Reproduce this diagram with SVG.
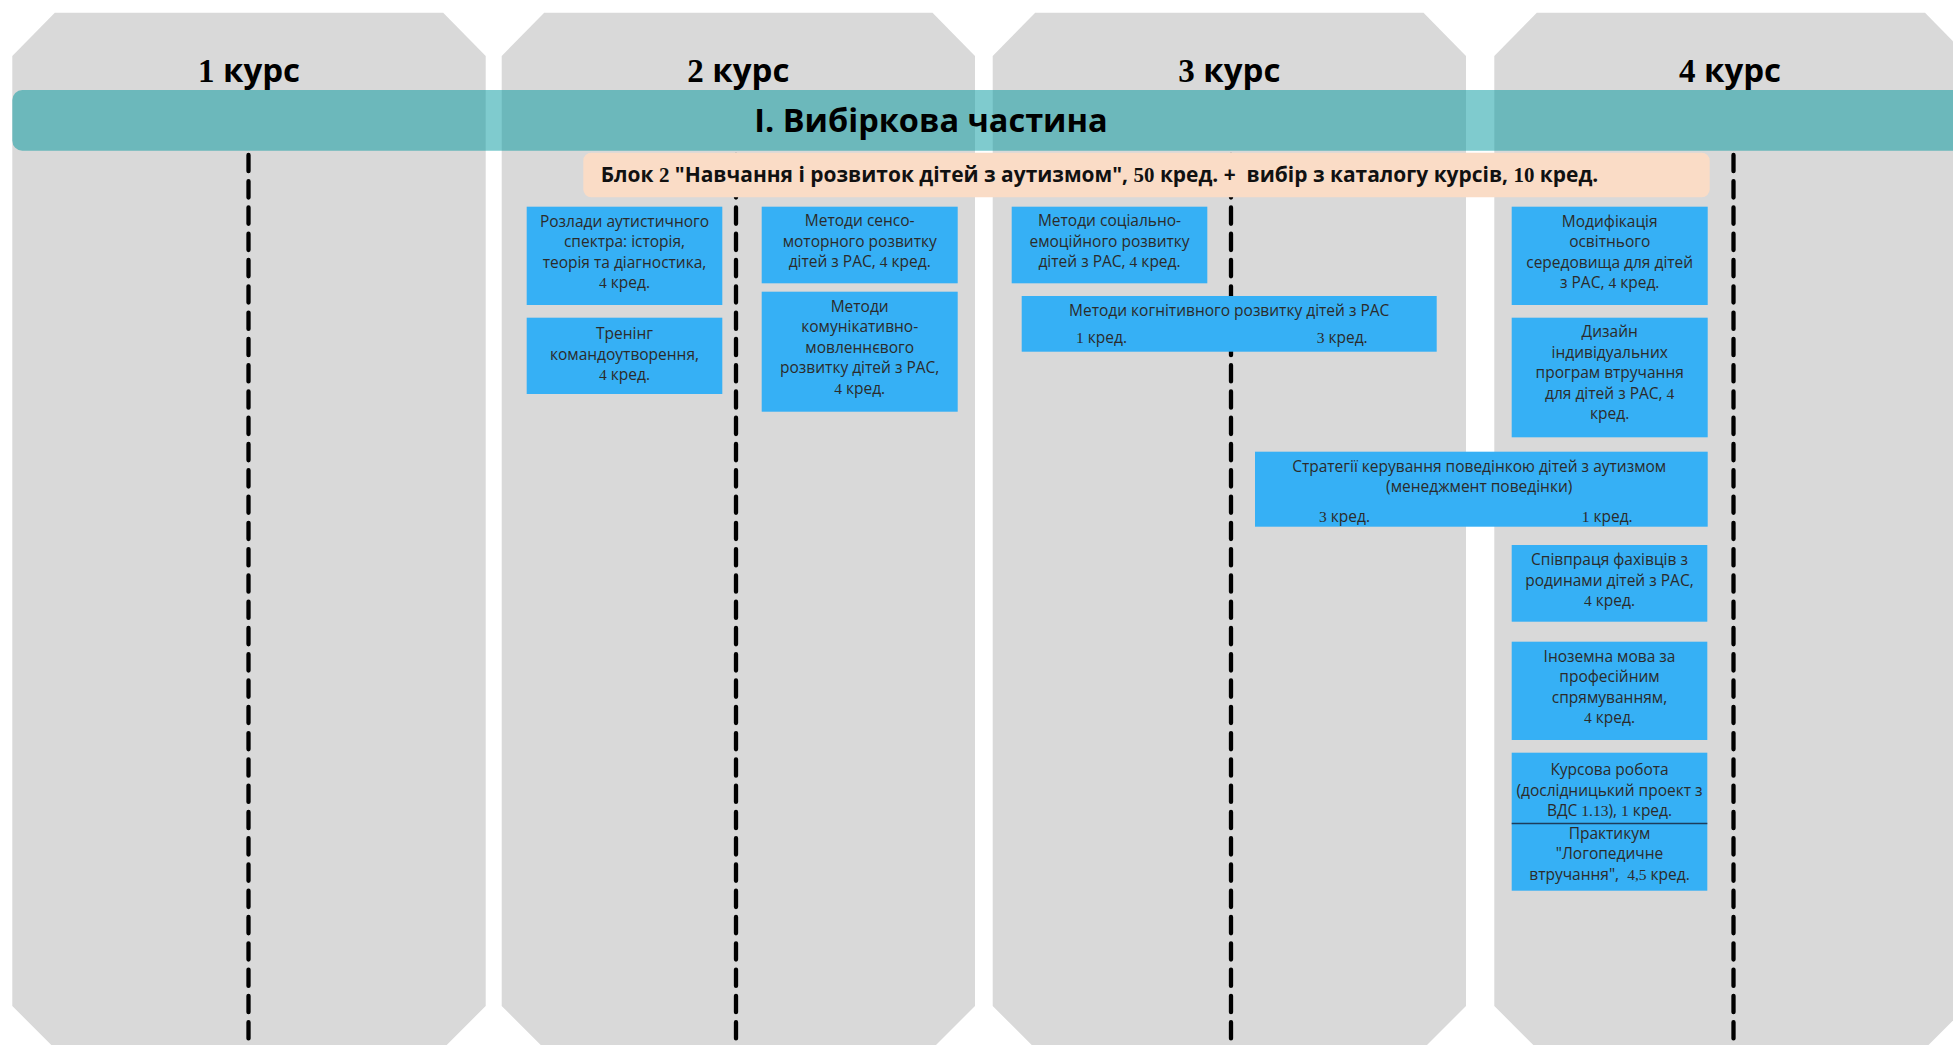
<svg xmlns="http://www.w3.org/2000/svg" width="1953" height="1045" viewBox="0 0 1953 1045">
<style>
.panel{fill:#d9d9d9}
.band{fill:#00979d;fill-opacity:.5}
.peach{fill:#fadcc6}
.box{fill:#36b0f5}
.dash{stroke:#000;stroke-width:4.3;stroke-linecap:round;stroke-dasharray:16.3 9.98;fill:none}
.h{font-family:"Open Sans","Noto Sans",sans-serif;font-weight:700;font-size:33px;fill:#000;text-anchor:middle}
.b{font-family:"Open Sans","Noto Sans",sans-serif;font-weight:700;font-size:20.5px;fill:#111;white-space:pre}
.t{font-family:"Open Sans","Noto Sans",sans-serif;font-size:15.5px;fill:#2b2b2b;text-anchor:middle;white-space:pre}
.s{text-anchor:start}
.d{font-family:"Liberation Serif",serif}
</style>
<g id="panels">
<g id="year1"><path class="panel" d="M12.3,56 L54.8,12.7 L443.2,12.7 L485.7,56 L485.7,1006 L446.7,1045 L51.3,1045 L12.3,1006 Z"/><text class="h" x="249" y="82"><tspan class="d">1</tspan> курс</text></g>
<g id="year2"><path class="panel" d="M501.7,56 L544.2,12.7 L932.5,12.7 L975,56 L975,1006 L936,1045 L540.7,1045 L501.7,1006 Z"/><text class="h" x="738.3" y="82"><tspan class="d">2</tspan> курс</text></g>
<g id="year3"><path class="panel" d="M992.7,56 L1035.2,12.7 L1423.5,12.7 L1466,56 L1466,1006 L1427,1045 L1031.7,1045 L992.7,1006 Z"/><text class="h" x="1229.3" y="82"><tspan class="d">3</tspan> курс</text></g>
<g id="year4"><path class="panel" d="M1494.3,56 L1536.8,12.7 L1925,12.7 L1967.5,56 L1967.5,1006 L1928.5,1045 L1533.3,1045 L1494.3,1006 Z"/><text class="h" x="1730" y="82"><tspan class="d">4</tspan> курс</text></g>
</g>
<g id="band">
<rect class="band" x="12.3" y="90" width="1970" height="60.7" rx="10"/>
<text class="h" x="931" y="132" style="font-size:32.5px">I. Вибіркова частина</text>
</g>
<g id="connectors">
<path class="dash" d="M248.5,154.9 V1050"/>
<path class="dash" d="M736,154.9 V1050"/>
<path class="dash" d="M1231,154.9 V1050"/>
<path class="dash" d="M1733.5,154.9 V1050"/>
</g>
<g id="block2">
<rect class="peach" x="583.3" y="152.7" width="1126.4" height="44.6" rx="8"/>
<text class="b" x="600.7" y="182" textLength="997.6" lengthAdjust="spacingAndGlyphs">Блок <tspan class="d">2</tspan> "Навчання і розвиток дітей з аутизмом", <tspan class="d">50</tspan> кред. +  вибір з каталогу курсів, <tspan class="d">10</tspan> кред.</text>
</g>
<g id="n1"><rect class="box" x="526.7" y="206.7" width="195.6" height="98.3"/>
<text class="t" x="624.5" y="226.7">Розлади аутистичного</text><text class="t" x="624.5" y="247.2">спектра: історія,</text><text class="t" x="624.5" y="267.7">теорія та діагностика,</text><text class="t" x="624.5" y="288.2"><tspan class="d">4</tspan> кред.</text></g>
<g id="n2"><rect class="box" x="526.7" y="317.7" width="195.6" height="76.3"/>
<text class="t" x="624.5" y="339">Тренінг</text><text class="t" x="624.5" y="359.5">командоутворення,</text><text class="t" x="624.5" y="380"><tspan class="d">4</tspan> кред.</text></g>
<g id="n3"><rect class="box" x="761.7" y="206.7" width="196" height="76.6"/>
<text class="t" x="859.7" y="226">Методи сенсо-</text><text class="t" x="859.7" y="246.5">моторного розвитку</text><text class="t" x="859.7" y="267">дітей з РАС, <tspan class="d">4</tspan> кред.</text></g>
<g id="n4"><rect class="box" x="761.7" y="291.7" width="196" height="120"/>
<text class="t" x="859.7" y="311.5">Методи</text><text class="t" x="859.7" y="332">комунікативно-</text><text class="t" x="859.7" y="352.5">мовленнєвого</text><text class="t" x="859.7" y="373">розвитку дітей з РАС,</text><text class="t" x="859.7" y="393.5"><tspan class="d">4</tspan> кред.</text></g>
<g id="n5"><rect class="box" x="1011.7" y="206.7" width="195.6" height="76.6"/>
<text class="t" x="1109.5" y="226">Методи соціально-</text><text class="t" x="1109.5" y="246.5">емоційного розвитку</text><text class="t" x="1109.5" y="267">дітей з РАС, <tspan class="d">4</tspan> кред.</text></g>
<g id="n6"><rect class="box" x="1021.7" y="296" width="415" height="55.7"/>
<text class="t" x="1229.2" y="316">Методи когнітивного розвитку дітей з РАС</text>
<text class="t s" x="1076" y="343"><tspan class="d">1</tspan> кред.</text><text class="t s" x="1316.7" y="343"><tspan class="d">3</tspan> кред.</text></g>
<g id="n7"><rect class="box" x="1511.7" y="206.7" width="196" height="98.3"/>
<text class="t" x="1609.7" y="226.7">Модифікація</text><text class="t" x="1609.7" y="247.2">освітнього</text><text class="t" x="1609.7" y="267.7">середовища для дітей</text><text class="t" x="1609.7" y="288.2">з РАС, <tspan class="d">4</tspan> кред.</text></g>
<g id="n8"><rect class="box" x="1511.7" y="317.7" width="196" height="119.6"/>
<text class="t" x="1609.7" y="337">Дизайн</text><text class="t" x="1609.7" y="357.5">індивідуальних</text><text class="t" x="1609.7" y="378">програм втручання</text><text class="t" x="1609.7" y="398.5">для дітей з РАС, <tspan class="d">4</tspan></text><text class="t" x="1609.7" y="419">кред.</text></g>
<g id="n9"><rect class="box" x="1255" y="451.7" width="452.7" height="75"/>
<text class="t" x="1479.2" y="471.7">Стратегії керування поведінкою дітей з аутизмом</text><text class="t" x="1479.2" y="492">(менеджмент поведінки)</text>
<text class="t s" x="1319" y="522"><tspan class="d">3</tspan> кред.</text><text class="t s" x="1581.7" y="522"><tspan class="d">1</tspan> кред.</text></g>
<g id="n10"><rect class="box" x="1511.7" y="545" width="195.6" height="76.7"/>
<text class="t" x="1609.5" y="565">Співпраця фахівців з</text><text class="t" x="1609.5" y="585.5">родинами дітей з РАС,</text><text class="t" x="1609.5" y="606"><tspan class="d">4</tspan> кред.</text></g>
<g id="n11"><rect class="box" x="1511.7" y="641.7" width="195.6" height="98.3"/>
<text class="t" x="1609.5" y="661.7">Іноземна мова за</text><text class="t" x="1609.5" y="682.2">професійним</text><text class="t" x="1609.5" y="702.7">спрямуванням,</text><text class="t" x="1609.5" y="723.2"><tspan class="d">4</tspan> кред.</text></g>
<g id="n12"><rect class="box" x="1511.7" y="752.7" width="195.6" height="71"/>
<text class="t" x="1609.5" y="775">Курсова робота</text><text class="t" x="1609.5" y="795.5">(дослідницький проект з</text><text class="t" x="1609.5" y="816">ВДС <tspan class="d">1.13</tspan>), <tspan class="d">1</tspan> кред.</text></g>
<g id="n13"><rect class="box" x="1511.7" y="823.5" width="195.6" height="67.2"/>
<line x1="1511.7" y1="823.5" x2="1707.3" y2="823.5" stroke="#1d3d5c" stroke-width="1.6"/>
<text class="t" x="1609.5" y="838.5">Практикум</text><text class="t" x="1609.5" y="859">"Логопедичне</text><text class="t" x="1609.5" y="879.5">втручання",  <tspan class="d">4,5</tspan> кред.</text></g>
</svg>
